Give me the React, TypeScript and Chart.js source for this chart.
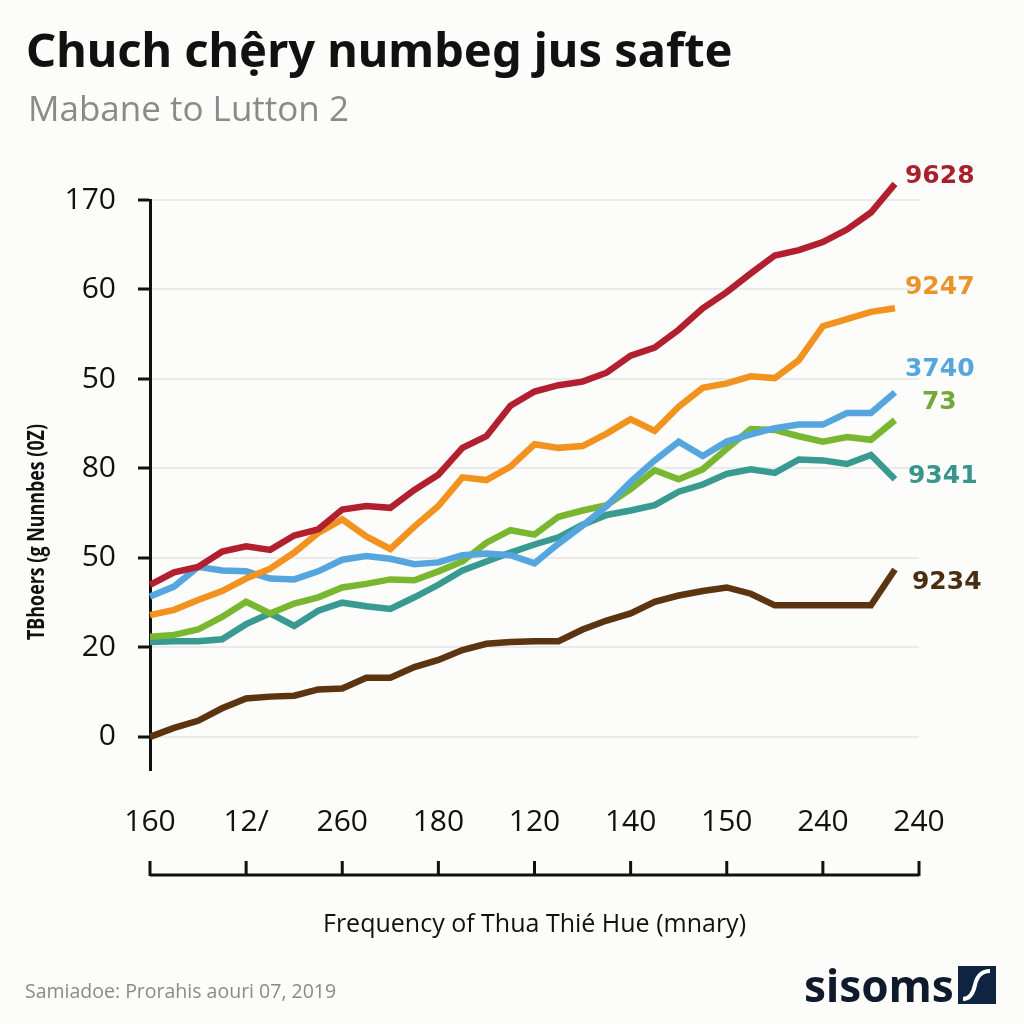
import React, { useEffect, useRef } from 'react';
import { Chart, registerables } from 'chart.js';

Chart.register(...registerables);

const chartTitle = 'Chuch chệry numbeg jus safte';
const chartSubtitle = 'Mabane to Lutton 2';
const xAxisTitle = 'Frequency of Thua Thié Hue (mnary)';
const yAxisTitle = 'TBhoers (g Nunnbes (0Z)';
const sourceNote = 'Samiadoe: Prorahis aouri 07, 2019';
const brandName = 'sisoms';

const xTickLabels = ['160', '12/', '260', '180', '120', '140', '150', '240', '240'];
const yTickLabels = ['0', '20', '50', '80', '50', '60', '170'];
const seriesLabels = ['9628', '9247', '3740', '73', '9341', '9234'];

const redSeries = [17.0, 18.4, 19.0, 20.7, 21.3, 20.9, 22.5, 23.2, 25.4, 25.8, 25.6, 27.6, 29.3, 32.3, 33.6, 37.0, 38.6, 39.3, 39.7, 40.7, 42.6, 43.5, 45.5, 47.9, 49.7, 51.8, 53.8, 54.4, 55.3, 56.7, 58.6, 61.8];
const orangeSeries = [13.6, 14.2, 15.3, 16.3, 17.7, 18.8, 20.6, 22.8, 24.3, 22.4, 21.0, 23.5, 25.8, 29.0, 28.7, 30.2, 32.7, 32.3, 32.5, 33.9, 35.5, 34.2, 36.9, 39.0, 39.5, 40.3, 40.1, 42.1, 45.9, 46.7, 47.5, 47.9];
const blueSeries = [15.7, 16.8, 19.0, 18.6, 18.5, 17.7, 17.6, 18.5, 19.8, 20.2, 19.9, 19.3, 19.5, 20.3, 20.5, 20.3, 19.4, 21.6, 23.6, 25.8, 28.5, 30.9, 33.0, 31.4, 33.0, 33.8, 34.5, 34.9, 34.9, 36.2, 36.2, 38.5];
const greenSeries = [11.2, 11.4, 12.0, 13.4, 15.1, 13.8, 14.9, 15.6, 16.7, 17.1, 17.6, 17.5, 18.5, 19.6, 21.7, 23.1, 22.6, 24.6, 25.3, 25.9, 27.7, 29.8, 28.8, 29.9, 32.2, 34.4, 34.3, 33.6, 33.0, 33.5, 33.2, 35.4];
const tealSeries = [10.6, 10.7, 10.7, 10.9, 12.6, 13.8, 12.4, 14.1, 15.0, 14.6, 14.3, 15.6, 17.0, 18.6, 19.6, 20.6, 21.5, 22.3, 23.7, 24.8, 25.3, 25.9, 27.4, 28.2, 29.4, 29.9, 29.5, 31.0, 30.9, 30.5, 31.5, 28.8];
const brownSeries = [0.0, 1.0, 1.8, 3.2, 4.3, 4.5, 4.6, 5.3, 5.4, 6.6, 6.6, 7.8, 8.6, 9.7, 10.4, 10.6, 10.7, 10.7, 12.0, 13.0, 13.8, 15.1, 15.8, 16.3, 16.7, 16.0, 14.7, 14.7, 14.7, 14.7, 14.7, 18.7];

const allSeries = [redSeries, orangeSeries, blueSeries, greenSeries, tealSeries, brownSeries];
const lineColors = ['#B2202F', '#F2931F', '#55A6DE', '#78B72F', '#389A91', '#5C340F'];
const labelColors = ['#A8202C', '#E8942A', '#55A6DC', '#74A83A', '#37958C', '#4A2E14'];
const labelOffsets = [[10, -7], [10, -21], [10, -23], [27, -18], [13, -3], [17, 13]];

const decorPlugin = {
  id: 'decor',
  beforeDraw(chart: any) {
    const ctx = chart.ctx;
    ctx.save();
    ctx.fillStyle = '#FCFCFA';
    ctx.fillRect(0, 0, chart.width, chart.height);
    ctx.restore();
  },
  afterDraw(chart: any) {
    const ctx = chart.ctx;
    const xs = chart.scales.x;
    ctx.save();
    // title
    ctx.fillStyle = '#111111';
    ctx.textAlign = 'left';
    ctx.textBaseline = 'alphabetic';
    ctx.font = 'bold 47px "Noto Sans"';
    ctx.fillText(chartTitle, 26, 67);
    ctx.fillStyle = '#8A8A8A';
    ctx.font = '35px "Open Sans"';
    ctx.fillText(chartSubtitle, 28, 121);

    // y axis title (condensed bold)
    ctx.save();
    ctx.translate(37, 532);
    ctx.rotate(-Math.PI / 2);
    ctx.textAlign = 'center';
    ctx.textBaseline = 'middle';
    ctx.fillStyle = '#111111';
    ctx.font = 'bold 23px "Open Sans"';
    const w = ctx.measureText(yAxisTitle).width;
    ctx.scale(216 / w, 1);
    ctx.fillText(yAxisTitle, 0, 0);
    ctx.restore();

    // detached x axis line with upward ticks
    ctx.strokeStyle = '#111111';
    ctx.lineWidth = 3;
    ctx.beginPath();
    ctx.moveTo(xs.left, 875);
    ctx.lineTo(xs.right, 875);
    xs.ticks.forEach((t: any) => {
      const px = xs.getPixelForValue(t.value);
      ctx.moveTo(px, 876);
      ctx.lineTo(px, 861);
    });
    ctx.stroke();

    // footer
    ctx.fillStyle = '#8A8A8A';
    ctx.font = '19.5px "Open Sans"';
    ctx.textBaseline = 'middle';
    ctx.fillText(sourceNote, 25, 992);

    // brand
    ctx.fillStyle = '#0F1B2D';
    ctx.font = 'bold 44px "Noto Sans"';
    ctx.textBaseline = 'alphabetic';
    ctx.fillText(brandName, 804, 1002);
    ctx.fillStyle = '#0F2440';
    ctx.fillRect(958, 966, 38, 38);
    ctx.strokeStyle = '#FFFFFF';
    ctx.lineWidth = 4;
    ctx.beginPath();
    ctx.moveTo(963, 999);
    ctx.quadraticCurveTo(972, 999, 975, 985);
    ctx.quadraticCurveTo(978, 971, 990, 971);
    ctx.stroke();
    ctx.restore();
  },
};

const endLabelPlugin = {
  id: 'endLabels',
  afterDatasetsDraw(chart: any) {
    const ctx = chart.ctx;
    ctx.save();
    ctx.font = 'bold 25px "DejaVu Sans"';
    ctx.textBaseline = 'middle';
    ctx.textAlign = 'left';
    chart.data.datasets.forEach((_: any, i: number) => {
      const meta = chart.getDatasetMeta(i);
      const pt = meta.data[meta.data.length - 1];
      ctx.fillStyle = labelColors[i];
      ctx.fillText(seriesLabels[i], pt.x + labelOffsets[i][0], pt.y + labelOffsets[i][1]);
    });
    ctx.restore();
  },
};

export default function App() {
  const canvasRef = useRef<HTMLCanvasElement | null>(null);

  useEffect(() => {
    document.body.style.margin = '0';
    const canvas = canvasRef.current;
    if (!canvas) return;
    const chart = new Chart(canvas, {
      type: 'line',
      data: {
        datasets: allSeries.map((values, i) => ({
          label: seriesLabels[i],
          data: values.map((v, j) => ({ x: j, y: v })),
          borderColor: lineColors[i],
          backgroundColor: lineColors[i],
          borderWidth: 6.5,
          pointRadius: 0,
          tension: 0,
          clip: false as any,
          borderJoinStyle: 'miter' as const,
        })),
      },
      options: {
        animation: false,
        responsive: false,
        devicePixelRatio: 1,
        layout: { padding: { left: 0, top: 200, right: 105, bottom: 84 } },
        plugins: {
          legend: { display: false },
          tooltip: { enabled: false },
          title: { display: false },
        },
        scales: {
          x: {
            type: 'linear',
            min: 0,
            max: 32,
            afterFit: (scale: any) => { scale.height = 170; },
            afterBuildTicks: (scale: any) => {
              scale.ticks = xTickLabels.map((_, i) => ({ value: i * 4 }));
            },
            ticks: {
              padding: 34,
              color: '#111111',
              font: { family: '"Open Sans"', size: 30 },
              maxRotation: 0,
              autoSkip: false,
              callback: (value: any) => xTickLabels[Math.round(Number(value) / 4)],
            },
            grid: { display: false, drawTicks: false },
            border: { display: false },
            title: {
              display: true,
              text: xAxisTitle,
              color: '#111111',
              font: { family: '"Open Sans"', size: 25 },
              padding: { top: 12, bottom: 0 },
            },
          },
          y: {
            type: 'linear',
            min: -3.7,
            max: 60,
            afterFit: (scale: any) => { scale.width = 150; },
            afterBuildTicks: (scale: any) => {
              scale.ticks = yTickLabels.map((_, i) => ({ value: i * 10 }));
            },
            ticks: {
              padding: 22,
              color: '#111111',
              font: { family: '"Open Sans"', size: 30 },
              autoSkip: false,
              callback: (value: any) => yTickLabels[Math.round(Number(value) / 10)],
            },
            grid: {
              color: '#EAEAEA',
              lineWidth: 2,
              drawTicks: true,
              tickLength: 12,
              tickColor: '#111111',
              tickWidth: 3,
            },
            border: { display: true, color: '#111111', width: 3 },
          },
        },
      },
      plugins: [decorPlugin, endLabelPlugin],
    } as any);
    return () => chart.destroy();
  }, []);

  return (
    <div style={{ width: 1024, height: 1024 }}>
      <canvas ref={canvasRef} width={1024} height={1024} style={{ display: 'block' }} />
    </div>
  );
}
